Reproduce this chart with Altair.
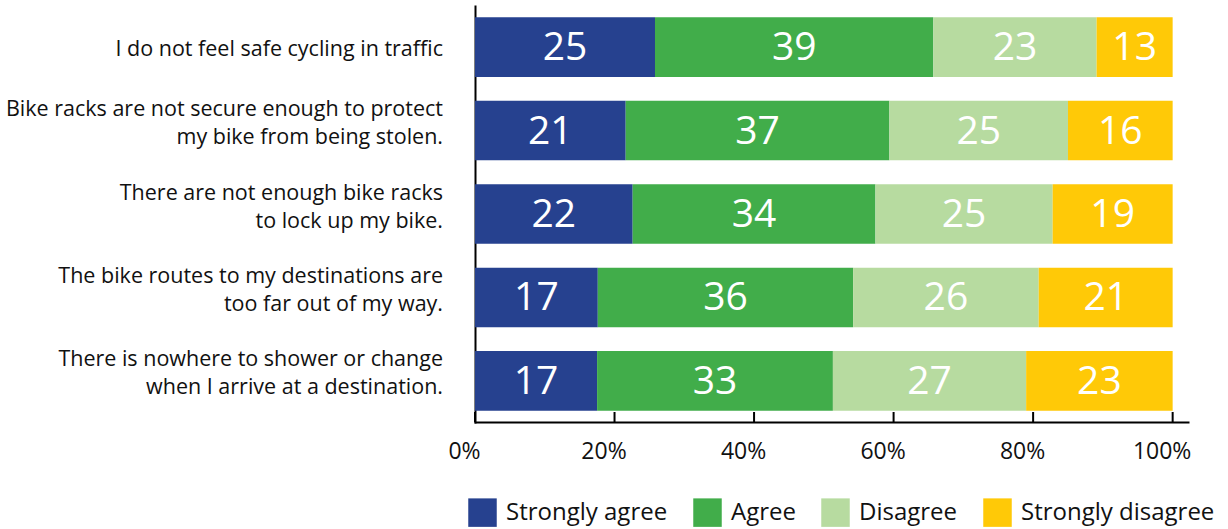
import altair as alt
import pandas as pd

statements = [
    "I do not feel safe cycling in traffic",
    "Bike racks are not secure enough to protect\nmy bike from being stolen.",
    "There are not enough bike racks\nto lock up my bike.",
    "The bike routes to my destinations are\ntoo far out of my way.",
    "There is nowhere to shower or change\nwhen I arrive at a destination.",
]
responses = ["Strongly agree", "Agree", "Disagree", "Strongly disagree"]
colors = ["#26418F", "#41AD4A", "#B7DBA0", "#FFC907"]

# bar lengths (% of each bar)
share_strongly_agree = [25.8, 21.6, 22.6, 17.6, 17.5]
share_agree = [39.9, 37.8, 34.8, 36.6, 33.8]
share_disagree = [23.4, 25.6, 25.4, 26.6, 27.7]
share_strongly_disagree = [10.9, 15.0, 17.2, 19.2, 21.0]

# numbers printed on the bars
label_strongly_agree = [25, 21, 22, 17, 17]
label_agree = [39, 37, 34, 36, 33]
label_disagree = [23, 25, 25, 26, 27]
label_strongly_disagree = [13, 16, 19, 21, 23]

ticks = [0, 20, 40, 60, 80, 100]

shares = [share_strongly_agree, share_agree, share_disagree, share_strongly_disagree]
labels_ = [label_strongly_agree, label_agree, label_disagree, label_strongly_disagree]
rows = []
for i, s in enumerate(statements):
    for j, r in enumerate(responses):
        rows.append({"statement": s, "response": r, "order": j,
                     "share": shares[j][i], "label": labels_[j][i]})
df = pd.DataFrame(rows)
tick_df = pd.DataFrame({"t": ticks})
stmt_df = pd.DataFrame({"statement": statements})

FONT = "Open Sans"
W, H = 713, 416
xscale = alt.Scale(domain=[0, 102.2], nice=False, zero=False)
yscale = alt.Scale(domain=statements, paddingInner=0.285, paddingOuter=0.134)

base = alt.Chart(df).transform_joinaggregate(
    total="sum(share)", groupby=["statement"]
).transform_calculate(
    pct="datum.share / datum.total * 100"
).transform_window(
    cum="sum(pct)", sort=[alt.SortField("order")], groupby=["statement"], frame=[None, 0]
).transform_calculate(
    start="datum.cum - datum.pct", mid="datum.cum - datum.pct / 2"
)

bars = base.mark_bar().encode(
    x=alt.X("start:Q", scale=xscale, axis=alt.Axis(
        values=ticks, format="d", labelExpr="datum.value + '%'", title=None,
        ticks=False, grid=False, domainColor="#000", domainWidth=2,
        labelFont=FONT, labelFontSize=23, labelColor="#111", labelPadding=18,
        labelOffset=-11, labelFlush=False, labelOverlap=False)),
    x2="cum:Q",
    y=alt.Y("statement:N", sort=statements, scale=yscale, axis=alt.Axis(
        title=None, ticks=False, labels=False, domainColor="#000", domainWidth=2)),
    color=alt.Color("response:N", sort=responses,
                    scale=alt.Scale(domain=responses, range=colors),
                    legend=alt.Legend(title=None, orient="none", direction="horizontal",
                                      legendX=-7, legendY=492, symbolType="square",
                                      symbolSize=812, symbolStrokeWidth=0, symbolOpacity=1,
                                      labelFont=FONT, labelFontSize=24, labelColor="#111",
                                      labelOffset=9, columnPadding=25, labelLimit=300)),
    order=alt.Order("order:Q"),
)

values_text = base.mark_text(color="white", font=FONT, fontSize=39, baseline="middle", dy=1).encode(
    x=alt.X("mid:Q", scale=xscale),
    y=alt.Y("statement:N", sort=statements, scale=yscale),
    text=alt.Text("label:Q"),
)

stmt_base = alt.Chart(stmt_df)
single = stmt_base.transform_filter("indexof(datum.statement, '\\n') < 0").mark_text(
    align="right", baseline="alphabetic", dy=8.5, font=FONT, fontSize=21.5, color="#111"
).encode(
    x=alt.value(-32),
    y=alt.Y("statement:N", sort=statements, scale=yscale),
    text="statement:N",
)
multi = stmt_base.transform_filter("indexof(datum.statement, '\\n') >= 0").mark_text(
    align="right", baseline="alphabetic", dy=-14.5, lineBreak="\n", lineHeight=28,
    font=FONT, fontSize=21.5, color="#111"
).encode(
    x=alt.value(-32),
    y=alt.Y("statement:N", sort=statements, scale=yscale),
    text="statement:N",
)

tickmarks = alt.Chart(tick_df).mark_rule(color="#000", strokeWidth=2).encode(
    x=alt.X("t:Q", scale=xscale),
    y=alt.value(H),
    y2=alt.value(H - 10),
)

chart = alt.layer(bars, values_text, single, multi, tickmarks).properties(
    width=W, height=H,
    autosize=alt.AutoSizeParams(type="none"),
    padding={"left": 475, "top": 6, "right": 40, "bottom": 107},
).configure_view(stroke=None).configure_axis(domainCap="square")

chart.save("out.html", embed_options={"renderer": "svg", "actions": False})
